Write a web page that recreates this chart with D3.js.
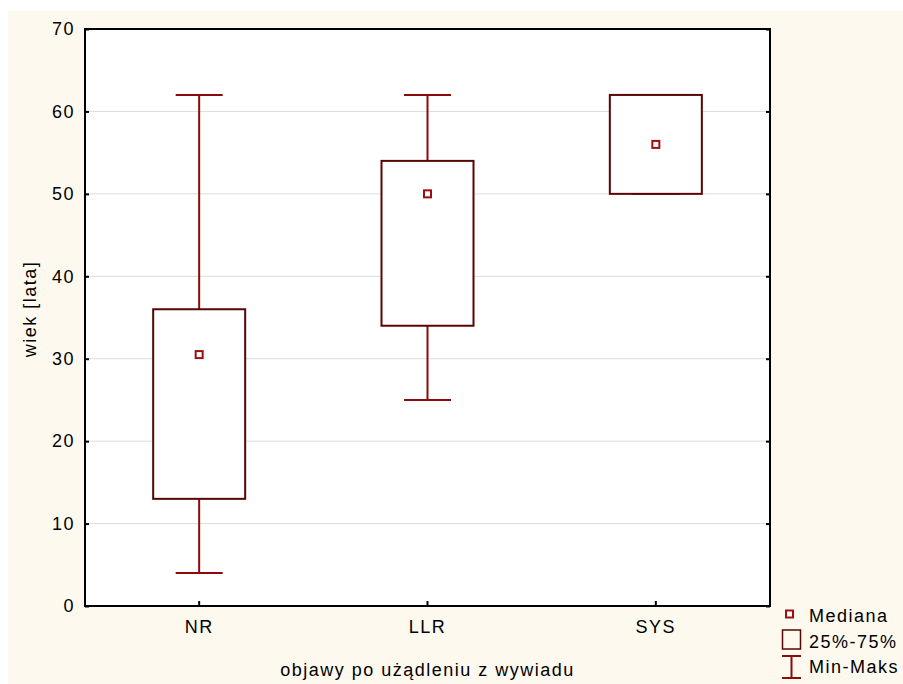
<!DOCTYPE html>
<html>
<head>
<meta charset="utf-8">
<script src="https://cdn.jsdelivr.net/npm/d3@7"></script>
<style>
body { margin: 0; background: #fff; }
text { font-family: "Liberation Sans", Arial, sans-serif; fill: #000; font-size: 18px; letter-spacing: 1.5px; }
</style>
</head>
<body>
<div id="chart"></div>
<script>
var categories = ['NR', 'LLR', 'SYS']
var mins = [4, 25, 50]
var q1s = [13, 34, 50]
var medians = [30.5, 50, 56]
var q3s = [36, 54, 62]
var maxs = [62, 62, 62]
var yTicks = [0, 10, 20, 30, 40, 50, 60, 70]
var legendLabels = ['Mediana', '25%-75%', 'Min-Maks']

var margin = { top: 29, right: 133, bottom: 78, left: 85 }
var W = 903, H = 684
var width = W - margin.left - margin.right
var height = H - margin.top - margin.bottom

var svg = d3.select('#chart').append('svg')
    .attr('width', W)
    .attr('height', H)

svg.append('rect')
    .attr('x', 8).attr('y', 11)
    .attr('width', W - 8).attr('height', H - 11)
    .attr('fill', '#fdf9ef')

var g = svg.append('g')
    .attr('transform', 'translate(' + margin.left + ',' + margin.top + ')')

var x = d3.scaleBand().domain(categories).range([0, width])
var y = d3.scaleLinear().domain([0, 70]).range([height, 0])

g.append('rect')
    .attr('width', width).attr('height', height)
    .attr('fill', '#fff')

// grid
g.selectAll('.grid')
    .data(yTicks.slice(1, -1))
    .enter().append('line')
    .attr('x1', 0).attr('x2', width)
    .attr('y1', function(d) { return y(d) })
    .attr('y2', function(d) { return y(d) })
    .attr('stroke', '#dcdcdc')
    .attr('stroke-width', 1)

// axes
var yAxis = g.append('g')
    .call(d3.axisLeft(y).tickValues(yTicks).tickSizeInner(-4).tickSizeOuter(0).tickPadding(10))
yAxis.select('.domain').remove()
yAxis.selectAll('line').attr('stroke', '#000').attr('stroke-width', 2)

var yAxisR = g.append('g')
    .attr('transform', 'translate(' + width + ',0)')
    .call(d3.axisRight(y).tickValues(yTicks).tickSizeInner(-4).tickSizeOuter(0).tickFormat(''))
yAxisR.select('.domain').remove()
yAxisR.selectAll('line').attr('stroke', '#000').attr('stroke-width', 2)

var xAxis = g.append('g')
    .attr('transform', 'translate(0,' + height + ')')
    .call(d3.axisBottom(x).tickSizeInner(-5).tickSizeOuter(0).tickPadding(14))
xAxis.select('.domain').remove()
xAxis.selectAll('line').attr('stroke', '#000').attr('stroke-width', 2)

g.append('rect')
    .attr('width', width).attr('height', height)
    .attr('fill', 'none')
    .attr('stroke', '#000')
    .attr('stroke-width', 2)

// boxes
var boxW = 92, capW = 47
var data = categories.map(function(c, i) {
    return { cat: c, min: mins[i], q1: q1s[i], med: medians[i], q3: q3s[i], max: maxs[i] }
})
var cx = function(d) { return x(d.cat) + x.bandwidth() / 2 }

var box = g.selectAll('.box').data(data).enter().append('g')

box.append('line')
    .attr('x1', cx).attr('x2', cx)
    .attr('y1', function(d) { return y(d.max) })
    .attr('y2', function(d) { return y(d.q3) })
    .attr('stroke', '#8b0a0a').attr('stroke-width', 2)
box.append('line')
    .attr('x1', cx).attr('x2', cx)
    .attr('y1', function(d) { return y(d.q1) })
    .attr('y2', function(d) { return y(d.min) })
    .attr('stroke', '#8b0a0a').attr('stroke-width', 2)
box.append('line')
    .attr('x1', function(d) { return cx(d) - capW / 2 })
    .attr('x2', function(d) { return cx(d) + capW / 2 })
    .attr('y1', function(d) { return y(d.max) })
    .attr('y2', function(d) { return y(d.max) })
    .attr('stroke', '#8b0a0a').attr('stroke-width', 2)
box.append('line')
    .attr('x1', function(d) { return cx(d) - capW / 2 })
    .attr('x2', function(d) { return cx(d) + capW / 2 })
    .attr('y1', function(d) { return y(d.min) })
    .attr('y2', function(d) { return y(d.min) })
    .attr('stroke', '#8b0a0a').attr('stroke-width', 2)
box.append('rect')
    .attr('x', function(d) { return cx(d) - boxW / 2 })
    .attr('y', function(d) { return y(d.q3) })
    .attr('width', boxW)
    .attr('height', function(d) { return y(d.q1) - y(d.q3) })
    .attr('fill', '#fff')
    .attr('stroke', '#5a0505').attr('stroke-width', 2)
box.append('rect')
    .attr('x', function(d) { return cx(d) - 3.5 })
    .attr('y', function(d) { return y(d.med) - 3.5 })
    .attr('width', 7).attr('height', 7)
    .attr('fill', '#fff')
    .attr('stroke', '#9b0f0f').attr('stroke-width', 2)

// axis titles
svg.append('text')
    .attr('transform', 'translate(36,309) rotate(-90)')
    .attr('text-anchor', 'middle')
    .text('wiek [lata]')
svg.append('text')
    .attr('x', margin.left + width / 2)
    .attr('y', 676)
    .attr('text-anchor', 'middle')
    .text('objawy po użądleniu z wywiadu')

// legend
var lg = svg.append('g').attr('transform', 'translate(781,0)')
lg.append('rect').attr('x', 5).attr('y', 610.5).attr('width', 7).attr('height', 7)
    .attr('fill', '#fff').attr('stroke', '#9b0f0f').attr('stroke-width', 2)
lg.append('rect').attr('x', 1.5).attr('y', 630).attr('width', 18).attr('height', 19)
    .attr('fill', 'none').attr('stroke', '#5a0505').attr('stroke-width', 1.5)
lg.append('line').attr('x1', 1).attr('x2', 20).attr('y1', 656).attr('y2', 656)
    .attr('stroke', '#8b0a0a').attr('stroke-width', 2)
lg.append('line').attr('x1', 1).attr('x2', 20).attr('y1', 678).attr('y2', 678)
    .attr('stroke', '#8b0a0a').attr('stroke-width', 2)
lg.append('line').attr('x1', 10.5).attr('x2', 10.5).attr('y1', 656).attr('y2', 678)
    .attr('stroke', '#8b0a0a').attr('stroke-width', 2)
lg.selectAll('.lt').data(legendLabels).enter().append('text')
    .attr('x', 28)
    .attr('y', function(d, i) { return 622 + i * 25.5 })
    .text(function(d) { return d })
</script>
</body>
</html>
